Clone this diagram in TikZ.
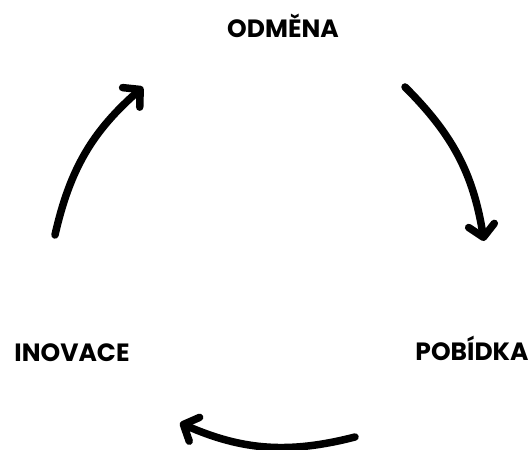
\documentclass[tikz,border=0pt]{standalone}
\usepackage{fontspec}
\setmainfont{Poppins}
\usetikzlibrary{arrows.meta}

\begin{document}
\begin{tikzpicture}[
    x=1pt, y=1pt,
    stage/.style={
        font=\fontsize{25}{28}\selectfont\bfseries, anchor=base, inner sep=0pt
    },
    cyclearrow/.style={
        line width=7.5pt, line cap=round,
        -{Straight Barb[length=12pt, width=26pt, round]}
    },
]

\useasboundingbox (0,0) rectangle (528,450);

% ── Nodes ──
\node[stage] (odmena)  at (283,412) {ODMĚNA};
\node[stage] (inovace) at (72,88)   {INOVACE};
\node[stage] (pobidka) at (472,89)  {POBÍDKA};

% ── Arrow ends ──
\coordinate (leftS)   at (55,215);
\coordinate (leftE)   at (143,363);
\coordinate (rightS)  at (405,363);
\coordinate (rightE)  at (484,209);
\coordinate (bottomS) at (355,13);
\coordinate (bottomE) at (180,27);

% ── Cycle arrows ──
\draw[cyclearrow] (leftS)   to[bend left=18] (leftE);
\draw[cyclearrow] (rightS)  to[bend left=18] (rightE);
\draw[cyclearrow] (bottomS) to[bend left=19] (bottomE);

\end{tikzpicture}
\end{document}
